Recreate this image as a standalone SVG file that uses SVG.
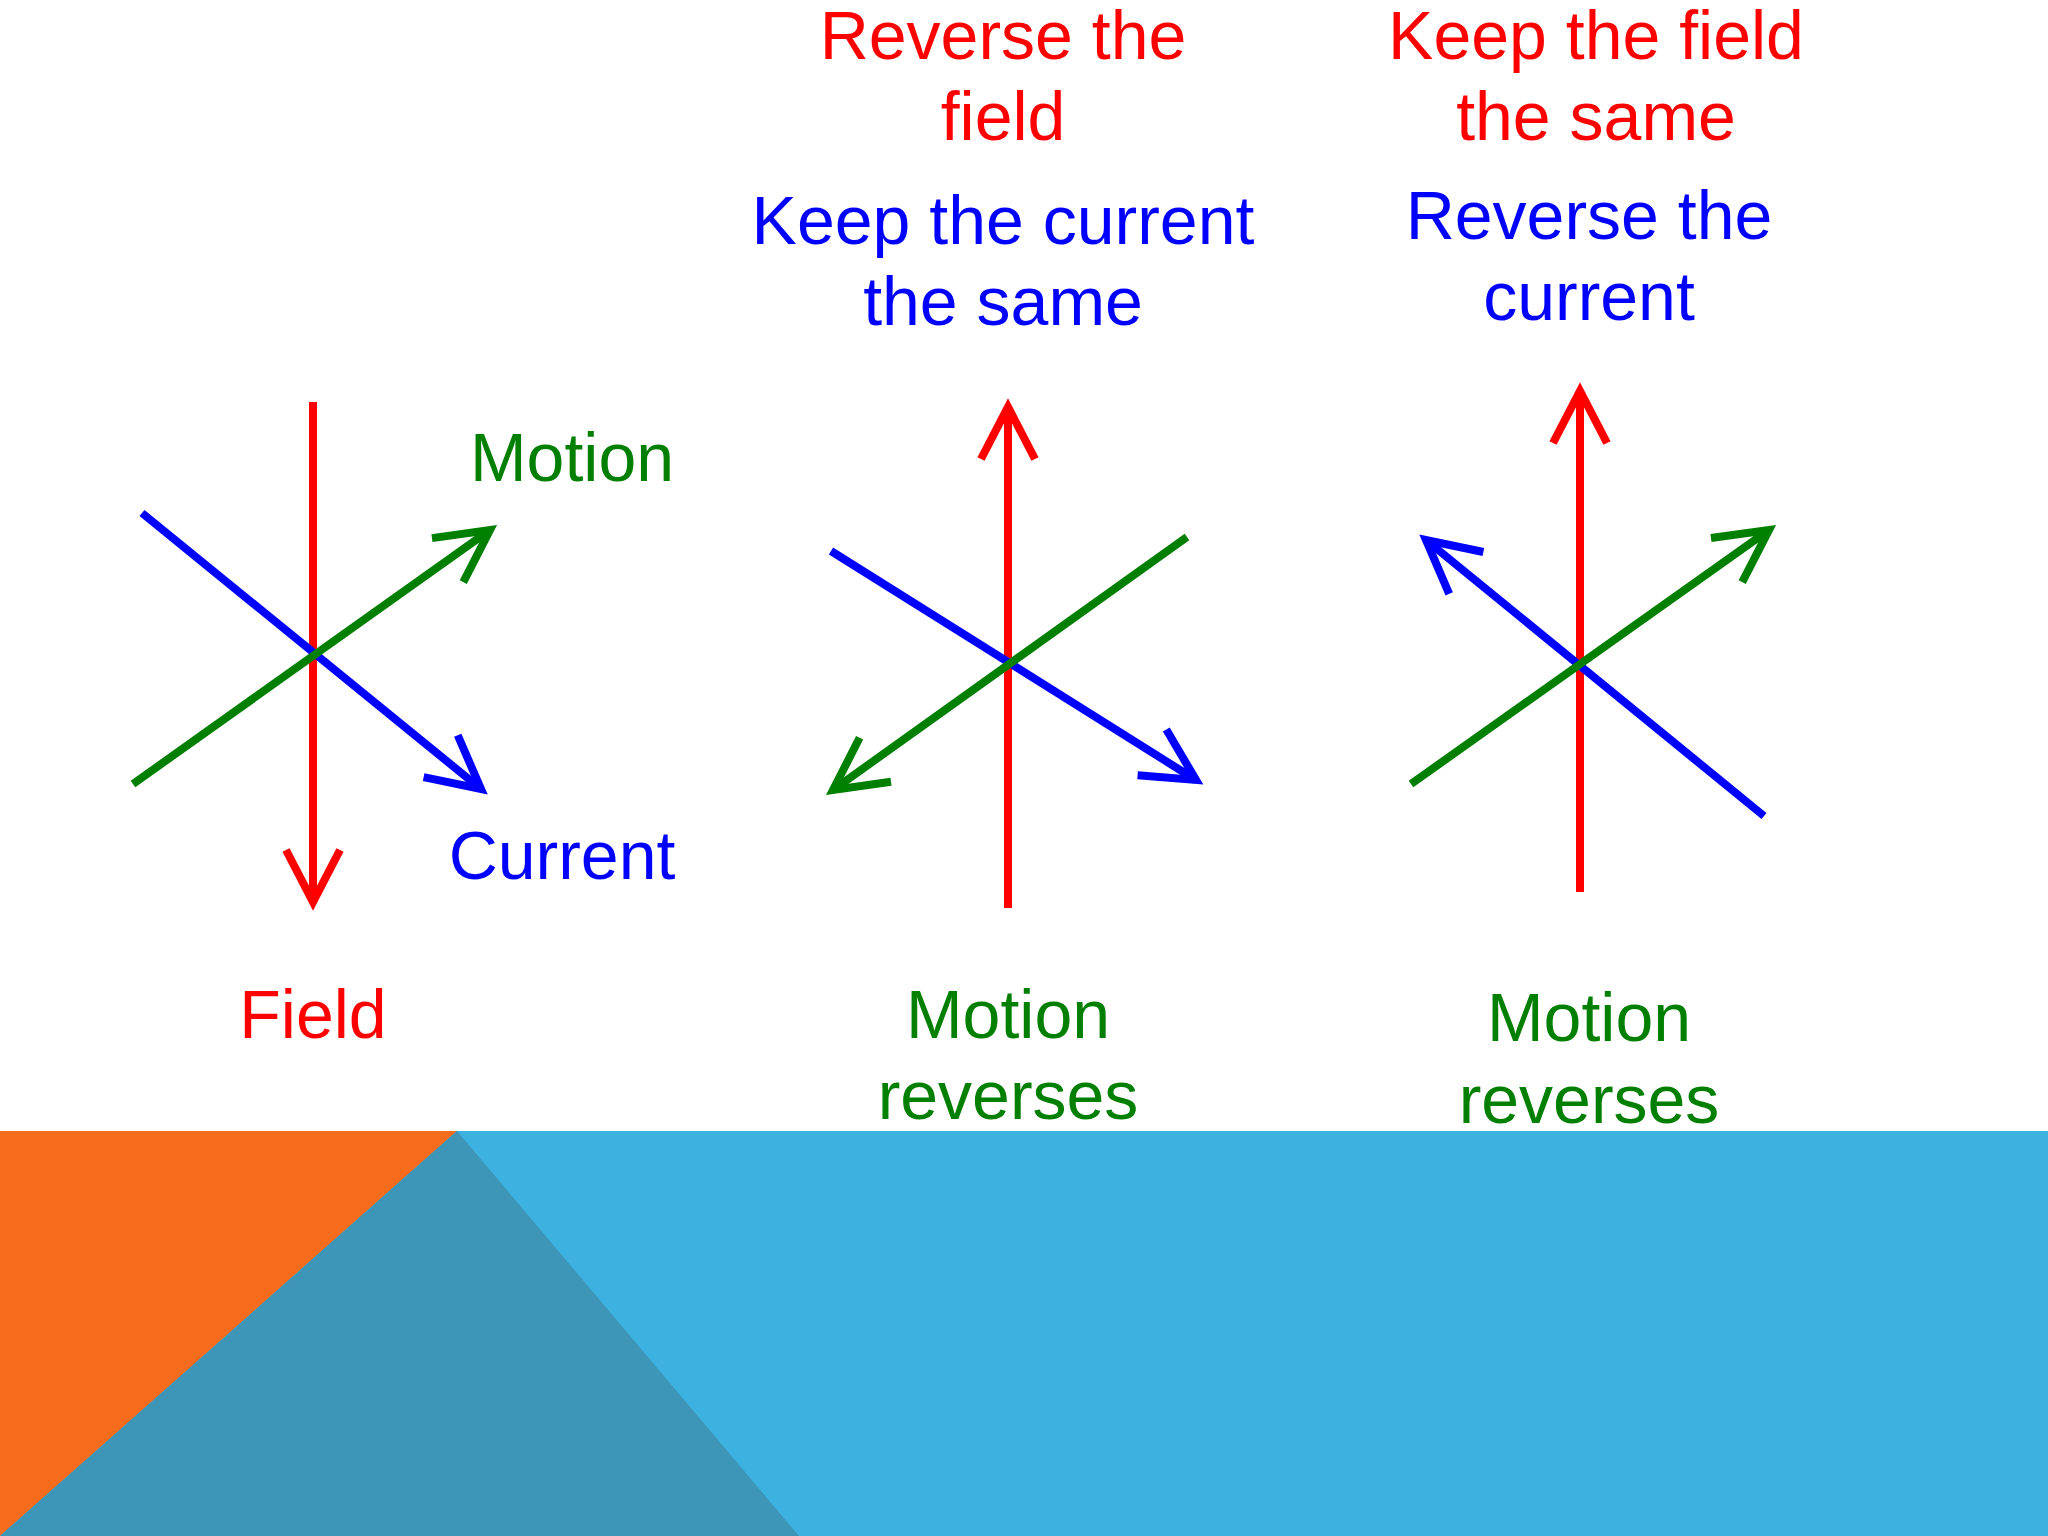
<svg xmlns="http://www.w3.org/2000/svg" width="2048" height="1536" viewBox="0 0 2048 1536">
<defs>
<style>
text{font-family:"Liberation Sans",Arial,sans-serif;font-size:68px;text-anchor:middle}
.r{fill:#ff0000}.b{fill:#0000ff}.g{fill:#007f00}
.lr{stroke:#ff0000;stroke-width:8;fill:none}.lb{stroke:#0000ff;stroke-width:8;fill:none}.lg{stroke:#007f00;stroke-width:8;fill:none}
</style>
<marker id="ar" markerUnits="userSpaceOnUse" orient="auto" markerWidth="120" markerHeight="120" refX="0" refY="0" viewBox="-60 -60 120 120" overflow="visible"><path d="M-52,-27 L0,0 L-52,27" fill="none" stroke="#ff0000" stroke-width="8"/></marker>
<marker id="ab" markerUnits="userSpaceOnUse" orient="auto" markerWidth="120" markerHeight="120" refX="0" refY="0" viewBox="-60 -60 120 120" overflow="visible"><path d="M-52,-27 L0,0 L-52,27" fill="none" stroke="#0000ff" stroke-width="8"/></marker>
<marker id="ag" markerUnits="userSpaceOnUse" orient="auto" markerWidth="120" markerHeight="120" refX="0" refY="0" viewBox="-60 -60 120 120" overflow="visible"><path d="M-52,-27 L0,0 L-52,27" fill="none" stroke="#007f00" stroke-width="8"/></marker>
</defs>
<rect width="2048" height="1536" fill="#ffffff"/>
<g id="background">
<rect x="0" y="1131" width="2048" height="405" fill="#3db1df"/>
<polygon points="0,1131 457,1131 0,1536" fill="#f76b1c"/>
<polygon points="457,1131 799,1536 0,1536" fill="#3d96b8"/>
</g>
<g id="connectors">
<line class="lr" x1="313" y1="402" x2="313" y2="902" marker-end="url(#ar)"/>
<line class="lb" x1="142" y1="513" x2="481" y2="789" marker-end="url(#ab)"/>
<line class="lg" x1="133" y1="784" x2="490" y2="530" marker-end="url(#ag)"/>
<line class="lr" x1="1008" y1="908" x2="1008" y2="407" marker-end="url(#ar)"/>
<line class="lb" x1="831" y1="551" x2="1196" y2="780" marker-end="url(#ab)"/>
<line class="lg" x1="1187" y1="537" x2="833" y2="790" marker-end="url(#ag)"/>
<line class="lr" x1="1580" y1="892" x2="1580" y2="391" marker-end="url(#ar)"/>
<line class="lb" x1="1764" y1="816" x2="1426" y2="540" marker-end="url(#ab)"/>
<line class="lg" x1="1411" y1="784" x2="1769" y2="530" marker-end="url(#ag)"/>
</g>
<g id="diagram1">
<text class="g" x="572" y="481">Motion</text>
<text class="b" x="562" y="879">Current</text>
<text class="r" x="313" y="1038">Field</text>
</g>
<g id="diagram2">
<text class="r" x="1003" y="59">Reverse the</text>
<text class="r" x="1003" y="140">field</text>
<text class="b" x="1003" y="244">Keep the current</text>
<text class="b" x="1003" y="325">the same</text>
<text class="g" x="1008" y="1038">Motion</text>
<text class="g" x="1008" y="1119">reverses</text>
</g>
<g id="diagram3">
<text class="r" x="1596" y="59">Keep the field</text>
<text class="r" x="1596" y="140">the same</text>
<text class="b" x="1589" y="239">Reverse the</text>
<text class="b" x="1589" y="320">current</text>
<text class="g" x="1589" y="1041">Motion</text>
<text class="g" x="1589" y="1123">reverses</text>
</g>
</svg>
